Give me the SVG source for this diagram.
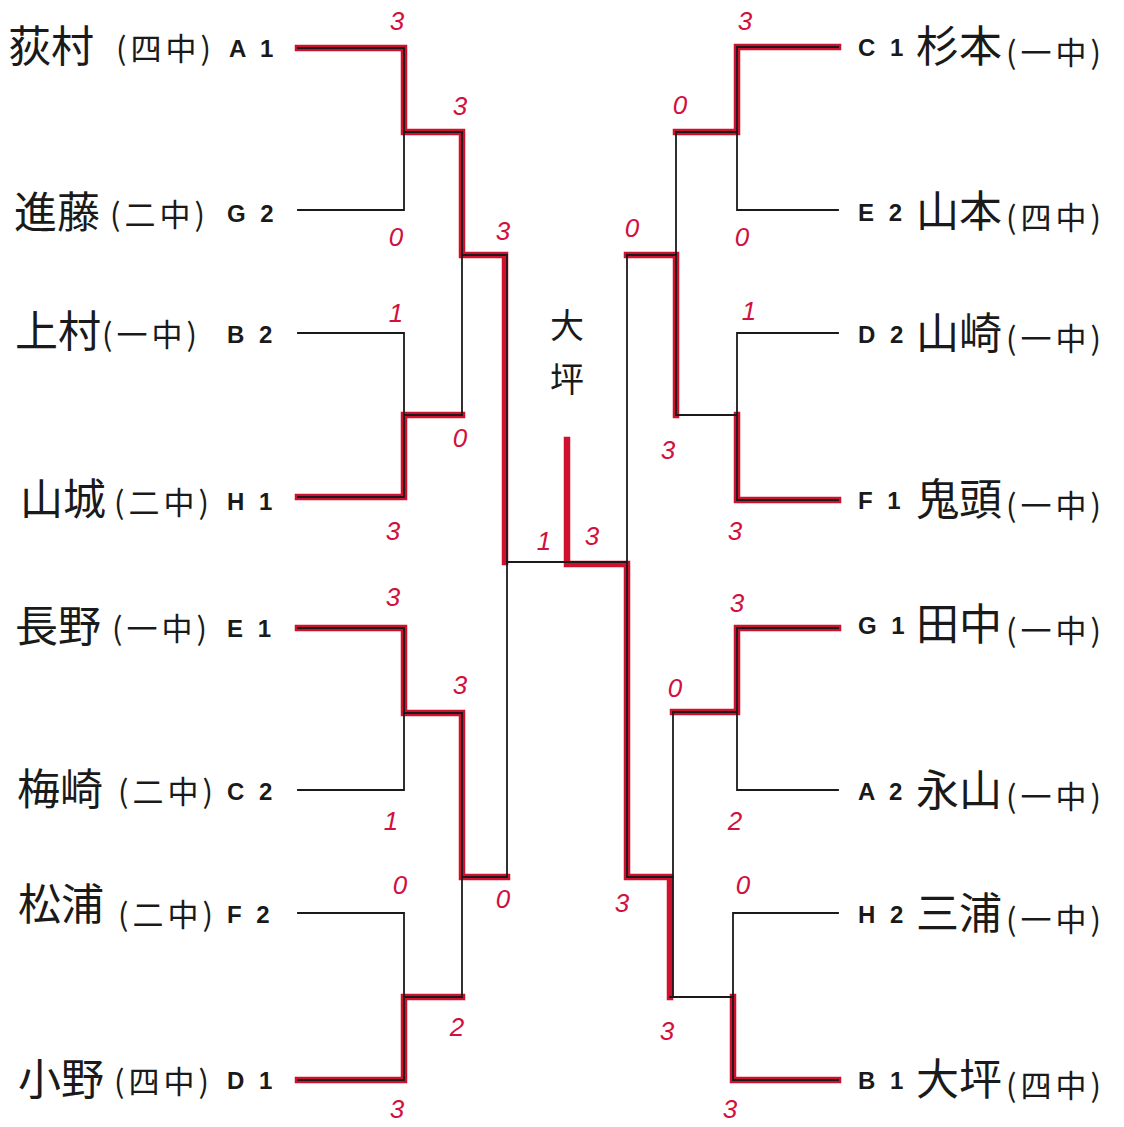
<svg xmlns="http://www.w3.org/2000/svg" width="1124" height="1127" viewBox="0 0 1124 1127">
<style>
.bg{fill:#ffffff}
.ln{fill:none;stroke:#1a1a1a;stroke-width:1.8;stroke-linecap:square}
.rd{fill:none;stroke:#d0102f;stroke-width:6.5;stroke-linejoin:miter;stroke-linecap:square}
.sc{font-family:"Liberation Sans",Arial,sans-serif;font-style:italic;font-size:26px;fill:#d21040;text-anchor:middle}
.nm{font-family:"Noto Sans CJK JP","Noto Sans CJK SC",sans-serif;font-size:43px;fill:#1a1a1a}
.sch{font-family:"Noto Sans CJK JP","Noto Sans CJK SC",sans-serif;font-size:31px;fill:#1a1a1a;letter-spacing:4px}
.cd{font-family:"Liberation Sans",Arial,sans-serif;font-weight:bold;font-size:24px;fill:#1a1a1a;letter-spacing:4px}
.ch{font-family:"Noto Sans CJK JP","Noto Sans CJK SC",sans-serif;font-size:34px;fill:#1a1a1a;text-anchor:middle}
</style>
<rect class="bg" x="0" y="0" width="1124" height="1127"/>

<g id="connectors">
  <g id="winner-paths">
    <path class="rd" d="M298,48 H404 V132 H462 V255 H505 V562"/>
    <path class="rd" d="M298,497 H404 V415 H462"/>
    <path class="rd" d="M298,628 H404 V713 H462 V877 H507"/>
    <path class="rd" d="M298,1080 H404 V997 H462"/>
    <path class="rd" d="M838,47 H737 V132 H676"/>
    <path class="rd" d="M838,500 H737 V415"/>
    <path class="rd" d="M676,415 V255 H627"/>
    <path class="rd" d="M838,628 H737 V712 H673"/>
    <path class="rd" d="M838,1080 H733 V997"/>
    <path class="rd" d="M670,997 V877 H627 V564 H567 V440"/>
  </g>
  <g id="bracket-lines">
    <path class="ln" d="M298,48 H404 V210 H298"/>
    <path class="ln" d="M404,132 H462"/>
    <path class="ln" d="M298,333 H404 V497 H298"/>
    <path class="ln" d="M404,415 H462"/>
    <path class="ln" d="M462,132 V415"/>
    <path class="ln" d="M462,255 H505"/>
    <path class="ln" d="M298,628 H404 V790 H298"/>
    <path class="ln" d="M404,713 H462"/>
    <path class="ln" d="M298,913 H404 V1080 H298"/>
    <path class="ln" d="M404,997 H462"/>
    <path class="ln" d="M462,713 V997"/>
    <path class="ln" d="M462,877 H507"/>
    <path class="ln" d="M507,255 V877"/>
    <path class="ln" d="M507,562 H627"/>
    <path class="ln" d="M838,47 H737 V210 H838"/>
    <path class="ln" d="M737,132 H676"/>
    <path class="ln" d="M838,333 H737 V500 H838"/>
    <path class="ln" d="M737,415 H676"/>
    <path class="ln" d="M676,132 V415"/>
    <path class="ln" d="M676,255 H627"/>
    <path class="ln" d="M838,628 H737 V790 H838"/>
    <path class="ln" d="M737,712 H673"/>
    <path class="ln" d="M838,913 H733 V1080 H838"/>
    <path class="ln" d="M733,997 H670"/>
    <path class="ln" d="M673,712 V997"/>
    <path class="ln" d="M673,877 H627"/>
    <path class="ln" d="M627,255 V877"/>
  </g>
</g>

<g id="scores">
  <text class="sc" x="397" y="30">3</text>
  <text class="sc" x="460" y="115">3</text>
  <text class="sc" x="396" y="246">0</text>
  <text class="sc" x="503" y="240">3</text>
  <text class="sc" x="396" y="322">1</text>
  <text class="sc" x="460" y="447">0</text>
  <text class="sc" x="393" y="540">3</text>
  <text class="sc" x="393" y="606">3</text>
  <text class="sc" x="460" y="694">3</text>
  <text class="sc" x="391" y="830">1</text>
  <text class="sc" x="400" y="894">0</text>
  <text class="sc" x="503" y="908">0</text>
  <text class="sc" x="457" y="1036">2</text>
  <text class="sc" x="397" y="1118">3</text>
  <text class="sc" x="544" y="550">1</text>
  <text class="sc" x="592" y="545">3</text>
  <text class="sc" x="745" y="30">3</text>
  <text class="sc" x="680" y="114">0</text>
  <text class="sc" x="632" y="237">0</text>
  <text class="sc" x="742" y="246">0</text>
  <text class="sc" x="749" y="320">1</text>
  <text class="sc" x="668" y="459">3</text>
  <text class="sc" x="735" y="540">3</text>
  <text class="sc" x="737" y="612">3</text>
  <text class="sc" x="675" y="697">0</text>
  <text class="sc" x="735" y="830">2</text>
  <text class="sc" x="622" y="912">3</text>
  <text class="sc" x="743" y="894">0</text>
  <text class="sc" x="667" y="1040">3</text>
  <text class="sc" x="730" y="1118">3</text>
</g>

<g id="champion">
  <text class="ch" x="567" y="338">大</text>
  <text class="ch" x="567" y="392">坪</text>
</g>

<g id="A1"><text class="nm" x="8" y="62">荻村</text><text class="sch" x="116" y="60">(四中)</text><text class="cd" x="229" y="57">A 1</text></g>
<g id="G2"><text class="nm" x="14" y="228">進藤</text><text class="sch" x="110" y="226">(二中)</text><text class="cd" x="227" y="222">G 2</text></g>
<g id="B2"><text class="nm" x="15" y="347">上村</text><text class="sch" x="102" y="346">(一中)</text><text class="cd" x="227" y="343">B 2</text></g>
<g id="H1"><text class="nm" x="20" y="515">山城</text><text class="sch" x="114" y="514">(二中)</text><text class="cd" x="227" y="510">H 1</text></g>
<g id="E1"><text class="nm" x="15" y="642">長野</text><text class="sch" x="112" y="640">(一中)</text><text class="cd" x="227" y="637">E 1</text></g>
<g id="C2"><text class="nm" x="17" y="805">梅崎</text><text class="sch" x="118" y="803">(二中)</text><text class="cd" x="227" y="800">C 2</text></g>
<g id="F2"><text class="nm" x="18" y="920">松浦</text><text class="sch" x="118" y="926">(二中)</text><text class="cd" x="227" y="923">F 2</text></g>
<g id="D1"><text class="nm" x="18" y="1095">小野</text><text class="sch" x="114" y="1093">(四中)</text><text class="cd" x="227" y="1089">D 1</text></g>

<g id="C1"><text class="cd" x="858" y="56">C 1</text><text class="nm" x="916" y="62">杉本</text><text class="sch" x="1006" y="64">(一中)</text></g>
<g id="E2"><text class="cd" x="858" y="221">E 2</text><text class="nm" x="916" y="227">山本</text><text class="sch" x="1006" y="229">(四中)</text></g>
<g id="D2"><text class="cd" x="858" y="343">D 2</text><text class="nm" x="916" y="349">山崎</text><text class="sch" x="1006" y="350">(一中)</text></g>
<g id="F1"><text class="cd" x="858" y="509">F 1</text><text class="nm" x="916" y="515">鬼頭</text><text class="sch" x="1006" y="517">(一中)</text></g>
<g id="G1"><text class="cd" x="858" y="634">G 1</text><text class="nm" x="916" y="640">田中</text><text class="sch" x="1006" y="642">(一中)</text></g>
<g id="A2"><text class="cd" x="858" y="800">A 2</text><text class="nm" x="916" y="806">永山</text><text class="sch" x="1006" y="808">(一中)</text></g>
<g id="H2"><text class="cd" x="858" y="923">H 2</text><text class="nm" x="916" y="929">三浦</text><text class="sch" x="1006" y="931">(一中)</text></g>
<g id="B1"><text class="cd" x="858" y="1089">B 1</text><text class="nm" x="916" y="1095">大坪</text><text class="sch" x="1006" y="1097">(四中)</text></g>
</svg>
